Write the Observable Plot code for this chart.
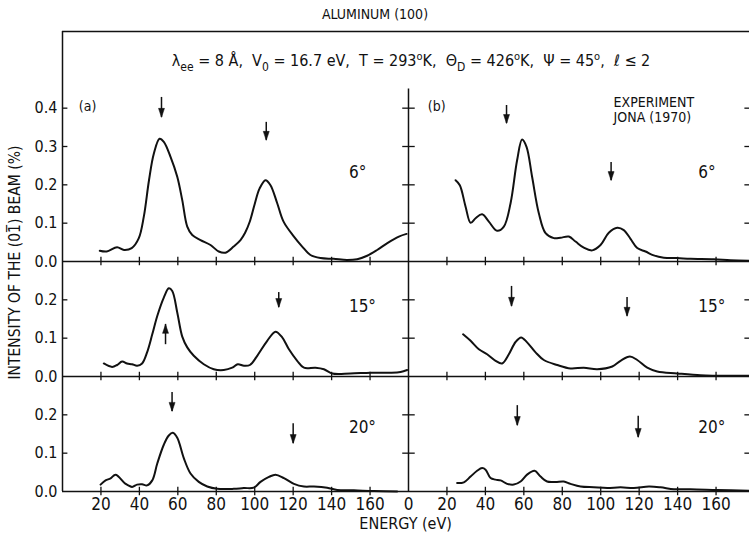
<!DOCTYPE html>
<html><head><meta charset="utf-8">
<script src="https://cdn.jsdelivr.net/npm/d3@7"></script>
<script src="https://cdn.jsdelivr.net/npm/@observablehq/plot@0.6"></script>
<style>
body{margin:0;background:#fff;}
#wrap{position:relative;width:749px;height:534px;font-family:"DejaVu Sans Condensed","Liberation Sans Narrow","DejaVu Sans",sans-serif;font-stretch:condensed;color:#111;}
#title{position:absolute;top:6px;left:0;width:750px;text-align:center;font-size:14px;line-height:16px;}
#params{position:absolute;top:52px;left:72px;width:678px;text-align:center;font-size:16px;line-height:18px;white-space:nowrap;}
#params sub{font-size:12px;vertical-align:-5px;line-height:0;}
#params sup{font-size:11px;vertical-align:6px;line-height:0;}
#chart{position:absolute;top:0;left:0;}
</style></head>
<body>
<div id="wrap">
  <div id="chart"></div>
  <div id="title">ALUMINUM (100)</div>
  <div id="params">λ<sub>ee</sub> = 8 Å,&nbsp; V<sub>0</sub> = 16.7 eV,&nbsp; T = 293<sup>o</sup>K,&nbsp; Θ<sub>D</sub> = 426<sup>o</sup>K,&nbsp; Ψ = 45<sup>o</sup>,&nbsp; ℓ ≤ 2</div>
</div>
<script>
// ---- data: energy (eV) and intensity (%) ----
const energy_a6 = [19.4,23,28.4,32,36,39.7,42.3,45,47.5,50.5,52.7,56.2,59.7,62.3,64.9,67.5,71.8,77,81.3,84.8,89,92.6,95,97.5,100,102.5,105.6,108.2,111.7,115,120.4,124.7,129,134.2,141,148,153.3,158.5,163.7,169,175,179];
const intensity_a6 = [0.028,0.026,0.037,0.030,0.035,0.061,0.117,0.212,0.281,0.320,0.312,0.273,0.221,0.160,0.091,0.069,0.056,0.043,0.026,0.023,0.039,0.056,0.075,0.105,0.150,0.190,0.212,0.199,0.152,0.104,0.065,0.039,0.017,0.009,0.007,0.004,0.006,0.015,0.030,0.048,0.065,0.072];
const energy_b6 = [24.5,26.7,29.7,32.3,34.9,38.3,41.8,46.1,49.6,53.1,56.5,59.1,61.4,64.3,67.8,71.3,75.6,79.1,83.4,86.9,91.2,95.6,99.9,104.2,108.6,112,115.5,119,123.3,127.6,132.8,139.8,146.7,158.9,167.5,177.4];
const intensity_b6 = [0.212,0.199,0.143,0.101,0.113,0.123,0.104,0.080,0.091,0.152,0.264,0.318,0.299,0.221,0.126,0.074,0.061,0.062,0.065,0.052,0.036,0.029,0.043,0.075,0.088,0.082,0.059,0.035,0.026,0.016,0.010,0.009,0.007,0.006,0.003,0.002];
const energy_a15 = [21.5,25.8,28.4,31,33.6,36.2,38.8,41.4,44,46.7,49.3,52.7,55.3,57.1,59.7,62.3,64.9,68.3,73.5,78.7,83.9,88.3,91.2,94.4,97.5,101.3,106.5,110.8,114.3,117.8,122.1,125.6,131.6,136,140.3,149.8,160.3,170.7,175.9,179.3];
const intensity_a15 = [0.034,0.025,0.030,0.039,0.034,0.032,0.028,0.034,0.063,0.110,0.158,0.206,0.230,0.223,0.167,0.104,0.076,0.054,0.032,0.019,0.017,0.023,0.032,0.028,0.030,0.054,0.093,0.117,0.102,0.071,0.041,0.023,0.023,0.019,0.008,0.008,0.010,0.010,0.012,0.017];
const energy_b15 = [28.4,32.3,36.6,40.9,45.3,48.7,52.2,55.7,58.6,61.7,66.1,70.4,77.4,84.3,91.2,98.2,106,110.3,115.2,119,124.2,129.4,139.8,151.9,158.9,177.4];
const intensity_b15 = [0.110,0.093,0.071,0.058,0.041,0.034,0.058,0.090,0.102,0.089,0.063,0.043,0.030,0.021,0.023,0.019,0.026,0.041,0.052,0.043,0.023,0.013,0.008,0.003,0.002,0.002];
const energy_a20 = [19.8,22.4,25,27.6,32.8,36.2,38.8,41.4,44,46.7,49.3,52.7,55.3,57.4,59.7,63.1,66.6,70.9,75.3,80.5,89.1,94.3,99.5,103,107.4,110.8,115.2,120.4,125.6,130.8,137.7,142.9,151.6,162,174.1];
const intensity_a20 = [0.018,0.029,0.034,0.044,0.020,0.012,0.018,0.019,0.016,0.029,0.073,0.122,0.146,0.153,0.140,0.087,0.047,0.025,0.013,0.007,0.007,0.009,0.010,0.025,0.038,0.044,0.035,0.020,0.013,0.013,0.010,0.004,0.003,0.001,0.000];
const energy_b20 = [25.3,28.8,32.3,35.7,38.3,40.1,42.7,45.3,47.9,51.3,54.8,58.3,61.7,65.6,68.7,72.1,76.5,80.8,84.3,89.5,96.4,103.4,110.3,117.2,125.1,131.1,138.1,146.7,160.6,177.4];
const intensity_b20 = [0.022,0.024,0.039,0.054,0.061,0.057,0.035,0.031,0.029,0.020,0.018,0.026,0.044,0.054,0.039,0.026,0.025,0.026,0.020,0.013,0.011,0.009,0.011,0.009,0.013,0.011,0.006,0.006,0.004,0.002];

// arrows (energy, tail intensity, tip intensity) per panel
const arrowEnergy_a6 = [51.5,106], arrowFrom_a6 = [0.428,0.363], arrowTo_a6 = [0.376,0.316];
const arrowEnergy_b6 = [51,105.4], arrowFrom_b6 = [0.407,0.258], arrowTo_b6 = [0.360,0.211];
const arrowEnergy_a15 = [53.6,112.5], arrowFrom_a15 = [0.083,0.219], arrowTo_a15 = [0.136,0.180];
const arrowEnergy_b15 = [53.6,113.7], arrowFrom_b15 = [0.235,0.206], arrowTo_b15 = [0.183,0.157];
const arrowEnergy_a20 = [57,120], arrowFrom_a20 = [0.258,0.177], arrowTo_a20 = [0.209,0.125];
const arrowEnergy_b20 = [56.6,119.5], arrowFrom_b20 = [0.224,0.196], arrowTo_b20 = [0.172,0.141];

const angleLabels = ["6°","15°","20°"];
const panelLabels = ["(a)","(b)"];
const xTickValues = [20,40,60,80,100,120,140,160];
const xTickLabelsRight = [0,20,40,60,80,100,120,140,160];
const yTicksRow = [[0.1,0.2,0.3,0.4],[0.1,0.2],[0.1,0.2]];
const yLabelsRow = [[0,0.1,0.2,0.3,0.4],[0,0.1,0.2],[0,0.1,0.2]];

// ---- layout (composite scales: column b shifted by 180 eV, rows stacked) ----
const COL_SHIFT = 180;
const ROW_BASE = [0.6, 0.3, 0];
const XMAX = 357.4;
const YMAX = 1.2;

const panels = [
  {col:0,row:0,E:energy_a6,I:intensity_a6,aE:arrowEnergy_a6,aF:arrowFrom_a6,aT:arrowTo_a6},
  {col:1,row:0,E:energy_b6,I:intensity_b6,aE:arrowEnergy_b6,aF:arrowFrom_b6,aT:arrowTo_b6},
  {col:0,row:1,E:energy_a15,I:intensity_a15,aE:arrowEnergy_a15,aF:arrowFrom_a15,aT:arrowTo_a15},
  {col:1,row:1,E:energy_b15,I:intensity_b15,aE:arrowEnergy_b15,aF:arrowFrom_b15,aT:arrowTo_b15},
  {col:0,row:2,E:energy_a20,I:intensity_a20,aE:arrowEnergy_a20,aF:arrowFrom_a20,aT:arrowTo_a20},
  {col:1,row:2,E:energy_b20,I:intensity_b20,aE:arrowEnergy_b20,aF:arrowFrom_b20,aT:arrowTo_b20}
];

const lineData = panels.flatMap(p => p.E.map((e,i)=>({x:e+p.col*COL_SHIFT, y:p.I[i]+ROW_BASE[p.row], key:p.col+"-"+p.row})));
const arrowData = panels.flatMap(p => p.aE.map((e,i)=>({x:e+p.col*COL_SHIFT, y1:p.aF[i]+ROW_BASE[p.row], y2:p.aT[i]+ROW_BASE[p.row]})));

const xTicks = [];
for (const b of ROW_BASE) for (const c of [0,1]) for (const t of xTickValues) xTicks.push({x:t+c*COL_SHIFT, b});
const yTicks = [];
yTicksRow.forEach((vals,r)=>vals.forEach(v=>yTicks.push({y:v+ROW_BASE[r]})));
const yLabels = [];
yLabelsRow.forEach((vals,r)=>vals.forEach(v=>yLabels.push({y:v+ROW_BASE[r], t:v.toFixed(1)})));
const xLabels = [
  ...xTickValues.map(v=>({x:v, t:String(v)})),
  ...xTickLabelsRight.map(v=>({x:v+COL_SHIFT, t:String(v)}))
];
const angleData = [];
angleLabels.forEach((a,r)=>{
  angleData.push({x:149, y:[0.232,0.183,0.167][r]+ROW_BASE[r], t:a});
  angleData.push({x:150.7+COL_SHIFT, y:[0.232,0.183,0.167][r]+ROW_BASE[r], t:a});
});

// filled arrowhead whose tip sits at the dot's anchor (points down unrotated)
const arrowHead = {draw(ctx){ ctx.moveTo(0,0); ctx.lineTo(-3,-9); ctx.lineTo(3,-9); ctx.closePath(); }};

const FONT = '"DejaVu Sans Condensed","Liberation Sans Narrow","DejaVu Sans",sans-serif';
const INK = "#111";

const chart = Plot.plot({
  width: 749, height: 534,
  marginLeft: 62, marginRight: 0, marginTop: 31, marginBottom: 43,
  x: {domain:[0, XMAX], axis:null},
  y: {domain:[0, YMAX], axis:null},
  style: {fontFamily: FONT, fontStretch: "condensed", color: INK, background: "#fff", overflow: "visible"},
  marks: [
    // frame and row separators
    Plot.ruleY([0,0.3,0.6,YMAX], {y:d=>d, x1:0, x2:XMAX, stroke:INK, strokeWidth:1.5}),
    Plot.ruleX([0], {x:d=>d, y1:0, y2:YMAX, stroke:INK, strokeWidth:1.5}),
    Plot.ruleX([COL_SHIFT], {x:d=>d, y1:0, y2:1.05, stroke:INK, strokeWidth:1.5}),
    // x ticks crossing each baseline
    Plot.ruleX(xTicks, {x:"x", y1:d=>d.b-0.011, y2:d=>d.b+0.011, stroke:INK, strokeWidth:1.3}),
    // y ticks: left axis (inward), divider (crossing), right edge (inward)
    Plot.ruleY(yTicks, {y:"y", x1:0, x2:2.8, stroke:INK, strokeWidth:1.3}),
    Plot.ruleY(yTicks, {y:"y", x1:COL_SHIFT-3, x2:COL_SHIFT+3.5, stroke:INK, strokeWidth:1.3}),
    Plot.ruleY(yTicks, {y:"y", x1:XMAX-2.4, x2:XMAX, stroke:INK, strokeWidth:1.3}),
    // curves
    Plot.line(lineData, {x:"x", y:"y", z:"key", curve:"catmull-rom", stroke:INK, strokeWidth:2}),
    // arrows: stem + filled head
    Plot.ruleX(arrowData, {x:"x", y1:"y1", y2:"y2", stroke:INK, strokeWidth:1.5}),
    Plot.dot(arrowData, {x:"x", y:"y2", symbol:arrowHead, rotate:d=>d.y2<d.y1?0:180, fill:INK, stroke:INK, strokeWidth:0.5, r:4}),
    // tick labels
    Plot.text(yLabels, {x:0, y:"y", text:"t", textAnchor:"end", dx:-5, fontSize:16, fill:INK, fontFamily:FONT}),
    Plot.text(xLabels, {x:"x", y:0, text:"t", dy:13, fontSize:17, fill:INK, fontFamily:FONT}),
    // axis titles
    Plot.text(["ENERGY (eV)"], {x:178.5, y:0, text:d=>d, dy:32, fontSize:16, fill:INK, fontFamily:FONT}),
    Plot.text(["INTENSITY OF THE (01\u0305) BEAM (%)"], {x:-24.5, y:0.597, text:d=>d, rotate:-90, fontSize:15.5, fill:INK, fontFamily:FONT}),
    // panel labels
    Plot.text(panelLabels, {x:(d,i)=>8.5+i*(COL_SHIFT+1.5), y:1.005, text:d=>d, textAnchor:"start", fontSize:14, fill:INK, fontFamily:FONT}),
    Plot.text(["EXPERIMENT","JONA (1970)"], {x:106.7+COL_SHIFT, y:(d,i)=>[1.016,0.976][i], text:d=>d, textAnchor:"start", fontSize:14, fill:INK, fontFamily:FONT}),
    // angle labels
    Plot.text(angleData, {x:"x", y:"y", text:"t", textAnchor:"start", fontSize:17, fill:INK, fontFamily:FONT})
  ]
});
document.getElementById("chart").appendChild(chart);
</script>
</body></html>
